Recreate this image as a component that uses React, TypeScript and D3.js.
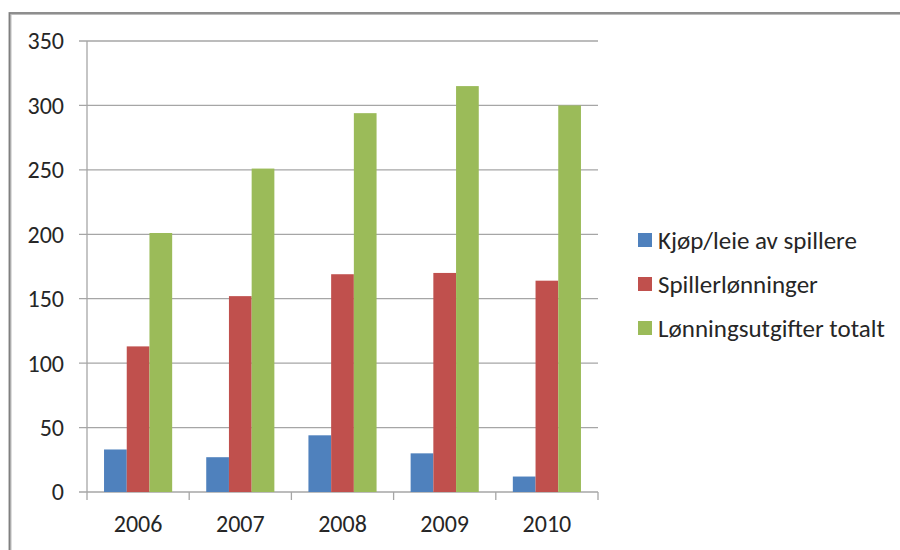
import React from 'react';
import * as d3 from 'd3';

const years = ['2006', '2007', '2008', '2009', '2010'];
const seriesNames = ['Kjøp/leie av spillere', 'Spillerlønninger', 'Lønningsutgifter totalt'];
const kjop = [33, 27, 44, 30, 12];
const spillerlonn = [113, 152, 169, 170, 164];
const totalt = [201, 251, 294, 315, 300];
const yTicks = [0, 50, 100, 150, 200, 250, 300, 350];
const colors = ['#4f81bd', '#c0504d', '#9bbb59'];

const W = 900;
const H = 550;

const App: React.FC = () => {
  const series = [kjop, spillerlonn, totalt];
  const left = 87;
  const right = 598;
  const top = 41;
  const bottom = 492;

  const x = d3.scaleBand<string>().domain(years).range([left, right]);
  const y = d3.scaleLinear().domain([0, 350]).range([bottom, top]);

  // Excel-style: gap width 150% of a bar
  const barW = x.bandwidth() / (3 + 1.5);
  const gap = (x.bandwidth() - 3 * barW) / 2;

  const font = 'Carlito, Calibri, "Liberation Sans", Arial, sans-serif';
  const fs = 24;

  return (
    <svg width={W} height={H} style={{ display: 'block', position: 'absolute', left: 0, top: 0 }}>
      <rect x={0} y={0} width={W} height={H} fill="#fff" />
      {/* frame */}
      <rect x={10} y={13.5} width={900} height={545} fill="none" stroke="#bdbdbd" strokeWidth={3} />
      <rect x={9.5} y={13} width={900} height={545} fill="none" stroke="#7f7f7f" strokeWidth={1.5} />

      {/* gridlines */}
      {yTicks.map((t) => (
        <line key={t} x1={left - 8} x2={right} y1={y(t)} y2={y(t)} stroke="#a6a6a6" strokeWidth={1.3} />
      ))}
      {/* y axis */}
      <line x1={left} x2={left} y1={top} y2={bottom} stroke="#a6a6a6" strokeWidth={1.3} />
      {/* x category ticks */}
      {[...years.map((yr) => x(yr) as number), right].map((v, i) => (
        <line key={i} x1={v} x2={v} y1={bottom} y2={bottom + 8} stroke="#a6a6a6" strokeWidth={1.3} />
      ))}

      {/* bars */}
      {series.map((vals, si) =>
        vals.map((v, i) => (
          <rect
            key={si + '-' + i}
            x={(x(years[i]) as number) + gap + si * barW}
            y={y(v)}
            width={barW}
            height={bottom - y(v)}
            fill={colors[si]}
          />
        ))
      )}

      {/* y tick labels */}
      {yTicks.map((t) => (
        <text key={t} x={64} y={y(t)} dy="0.35em" textAnchor="end" fontFamily={font} fontSize={fs} fill="#262626">
          {t}
        </text>
      ))}
      {/* x labels */}
      {years.map((yr) => (
        <text
          key={yr}
          x={(x(yr) as number) + x.bandwidth() / 2}
          y={524}
          dy="0.35em"
          textAnchor="middle"
          fontFamily={font}
          fontSize={fs}
          fill="#262626"
        >
          {yr}
        </text>
      ))}

      {/* legend */}
      {seriesNames.map((name, i) => (
        <g key={name} transform={`translate(638, ${240 + i * 44})`}>
          <rect x={0} y={-7} width={14} height={14} fill={colors[i]} />
          <text x={20} y={0} dy="0.35em" fontFamily={font} fontSize={25} fill="#262626">
            {name}
          </text>
        </g>
      ))}
    </svg>
  );
};

export default App;
